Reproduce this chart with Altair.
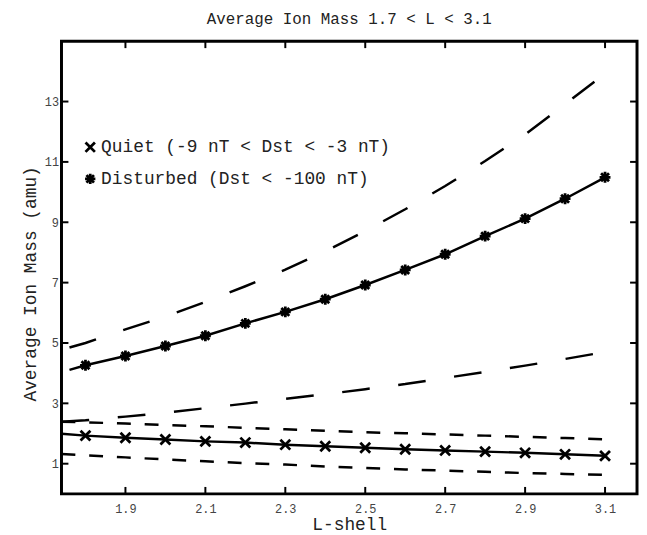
import altair as alt
import pandas as pd

# ---- data ----
L_pts = [1.8, 1.9, 2.0, 2.1, 2.2, 2.3, 2.4, 2.5, 2.6, 2.7, 2.8, 2.9, 3.0, 3.1]
quiet = [1.93, 1.86, 1.80, 1.74, 1.70, 1.63, 1.58, 1.53, 1.48, 1.44, 1.40, 1.36, 1.31, 1.26]
disturbed = [4.26, 4.57, 4.90, 5.24, 5.65, 6.03, 6.45, 6.92, 7.42, 7.94, 8.54, 9.12, 9.78, 10.49]

# solid fit lines start at the left frame
quiet_line_L = [1.74] + L_pts
quiet_line = [1.99] + quiet
dist_line_L = [1.76] + L_pts
dist_line = [4.11] + disturbed

# dashed bounds
bound_L = [1.74] + L_pts
dist_upper_L = [1.76] + L_pts
dist_upper = [4.85, 5.00, 5.45, 5.88, 6.36, 6.88, 7.43, 8.04, 8.71, 9.43, 10.20, 11.03, 11.91, 12.91, 13.93]
dist_lower = [2.39, 2.44, 2.56, 2.69, 2.84, 2.99, 3.15, 3.30, 3.47, 3.64, 3.84, 4.04, 4.25, 4.47, 4.70]
quiet_upper = [2.39, 2.37, 2.33, 2.28, 2.24, 2.19, 2.14, 2.09, 2.04, 2.01, 1.97, 1.93, 1.89, 1.85, 1.81]
quiet_lower = [1.32, 1.28, 1.21, 1.14, 1.08, 1.02, 0.97, 0.91, 0.86, 0.81, 0.77, 0.73, 0.69, 0.66, 0.63]

x_ticks = [1.9, 2.1, 2.3, 2.5, 2.7, 2.9, 3.1]
y_ticks = [1, 3, 5, 7, 9, 11, 13]

Q = "Quiet (-9 nT < Dst < -3 nT)"
D = "Disturbed (Dst < -100 nT)"
series = [Q, D]

title_text = "Average Ion Mass 1.7 < L < 3.1"
x_title = "L-shell"
y_title = "Average Ion Mass (amu)"

# ---- tables ----
pts = pd.DataFrame({"L": L_pts * 2, "v": quiet + disturbed,
                    "s": [Q] * len(L_pts) + [D] * len(L_pts)})
solid = pd.DataFrame({"L": quiet_line_L + dist_line_L, "v": quiet_line + dist_line,
                      "s": [Q] * len(quiet_line_L) + [D] * len(dist_line_L)})
qdash = pd.DataFrame({"L": bound_L * 2, "v": quiet_upper + quiet_lower,
                      "g": ["u"] * len(bound_L) + ["l"] * len(bound_L)})
ddash = pd.DataFrame({"L": dist_upper_L + bound_L, "v": dist_upper + dist_lower,
                      "g": ["u"] * len(dist_upper_L) + ["l"] * len(bound_L)})
xt = pd.DataFrame({"L": x_ticks})
yt = pd.DataFrame({"v": y_ticks})

W, H = 581, 457
FONT = "Liberation Mono"

xs = alt.Scale(domain=[1.74, 3.18], nice=False, zero=False)
ys = alt.Scale(domain=[0, 15], nice=False, zero=False)

x_axis = alt.Axis(values=x_ticks, format=".1f", ticks=False, domain=False, grid=False,
                  labelFont=FONT, labelFontSize=12, labelColor="#444",
                  labelPadding=10, titleFont=FONT, titleFontSize=18,
                  titleFontWeight="normal", titleColor="#222", titlePadding=1)
y_axis = alt.Axis(values=y_ticks, ticks=False, domain=False, grid=False,
                  labelFont=FONT, labelFontSize=12, labelColor="#444",
                  labelPadding=3, titleFont=FONT, titleFontSize=18,
                  titleFontWeight="normal", titleColor="#222",
                  titleX=-31, titleY=H / 2 + 16, titleBaseline="middle")


def X(field="L"):
    return alt.X(f"{field}:Q", scale=xs, axis=x_axis, title=x_title)


def Y(field="v"):
    return alt.Y(f"{field}:Q", scale=ys, axis=y_axis, title=y_title)


X_PATH = "M-1,-1L1,1M-1,1L1,-1"
AST_PATH = "M0,-1.1L0,1.1M-1.1,0L1.1,0M-0.8,-0.8L0.8,0.8M-0.8,0.8L0.8,-0.8"

solid_layer = alt.Chart(solid).mark_line(color="black", strokeWidth=2.5).encode(
    x=X(), y=Y(), detail="s:N")

qdash_layer = alt.Chart(qdash).mark_line(color="black", strokeWidth=2.5,
                                         strokeDash=[14, 14]).encode(
    x=X(), y=Y(), detail="g:N")

ddash_layer = alt.Chart(ddash).mark_line(color="black", strokeWidth=2.5,
                                         strokeDash=[28, 29]).encode(
    x=X(), y=Y(), detail="g:N")

pts_layer = alt.Chart(pts).mark_point(filled=False, color="black", strokeWidth=2.8,
                                      size=100, opacity=1).encode(
    x=X(), y=Y(),
    shape=alt.Shape("s:N", scale=alt.Scale(domain=series, range=[X_PATH, AST_PATH]),
                    legend=alt.Legend(title=None, orient="none", legendX=20, legendY=98,
                                      labelFont=FONT, labelFontSize=18, labelColor="#222",
                                      labelLimit=500,
                                      symbolStrokeWidth=2.8, symbolSize=90,
                                      symbolStrokeColor="black", rowPadding=10,
                                      labelOffset=2, padding=0)),
)

tick_b = alt.Chart(xt).mark_rule(color="black", strokeWidth=2).encode(
    x=X(), y=alt.value(H - 7), y2=alt.value(H))
tick_t = alt.Chart(xt).mark_rule(color="black", strokeWidth=2).encode(
    x=X(), y=alt.value(0), y2=alt.value(7))
tick_l = alt.Chart(yt).mark_rule(color="black", strokeWidth=2).encode(
    y=Y(), x=alt.value(0), x2=alt.value(7))
tick_r = alt.Chart(yt).mark_rule(color="black", strokeWidth=2).encode(
    y=Y(), x=alt.value(W - 7), x2=alt.value(W))

chart = alt.layer(solid_layer, qdash_layer, ddash_layer, pts_layer,
                  tick_b, tick_t, tick_l, tick_r).properties(
    width=W, height=H,
    title=alt.Title(title_text, font=FONT, fontSize=16, fontWeight="normal",
                    color="#222", anchor="middle", offset=13),
    autosize=alt.AutoSizeParams(type="none"),
    padding={"left": 54, "top": 31, "right": 2, "bottom": 38},
).configure(
    background="white",
    view=alt.ViewConfig(stroke="black", strokeWidth=3),
)

chart.save("out.html", embed_options={"renderer": "svg", "actions": False})
